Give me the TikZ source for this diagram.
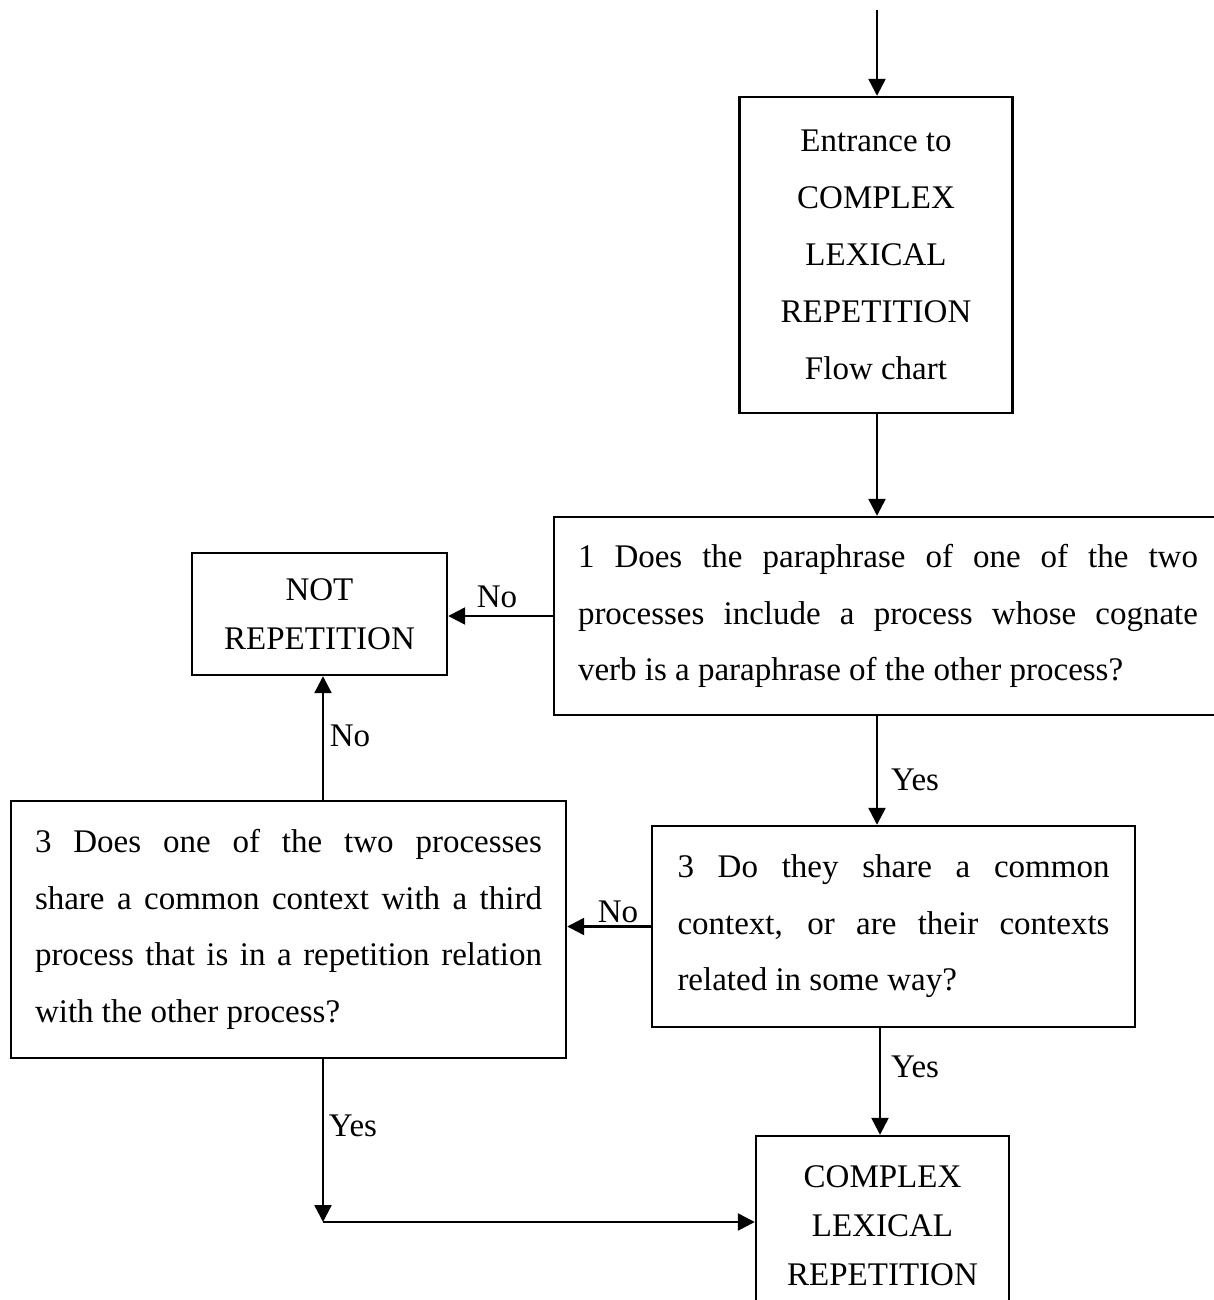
\documentclass[tikz,border=0pt]{standalone}
\usepackage{fontspec}
\setmainfont{Liberation Serif}
\usetikzlibrary{arrows.meta}
\begin{document}
\begin{tikzpicture}[x=0.5pt,y=-0.5pt,
  box/.style={draw,line width=1.2pt,rectangle,inner sep=0pt},
  qfont/.style={font=\fontsize{16.5}{28.25}\selectfont},
  flow/.style={line width=1.2pt,-{Triangle[length=8.5pt,width=8.5pt]}},
  lbl/.style={font=\fontsize{16.5}{20}\selectfont,inner sep=0pt}]
\useasboundingbox (0,0) rectangle (1214,1300);
\clip (0,0) rectangle (1214,1300);

% guide coordinates for the vertical connector columns
\coordinate (top) at (877,10);
\coordinate (col) at (323,0);
\coordinate (colr) at (880,0);
\coordinate (corner) at (323,1222);

% boxes
\node[box,minimum width=136.5pt,minimum height=158pt,align=center,
      font=\fontsize{16.5}{28.5}\selectfont] (entrance) at (876,255)
  {Entrance to\\COMPLEX\\LEXICAL\\REPETITION\\Flow chart};

\node[box,minimum width=334pt,minimum height=99pt,align=left,qfont] (q1) at (888,616)
  {\makebox[310pt][s]{1 Does the paraphrase of one of the two}\\
   \makebox[310pt][s]{processes include a process whose cognate}\\
   verb is a paraphrase of the other process?};

\node[box,minimum width=127.5pt,minimum height=61pt,align=center,
      font=\fontsize{16.5}{24.5}\selectfont] (notrep) at (319.5,614)
  {NOT\\REPETITION};

\node[box,minimum width=241.5pt,minimum height=100.5pt,align=left,qfont] (q3r) at (893.5,926.5)
  {\makebox[216pt][s]{3 Do they share a common}\\
   \makebox[216pt][s]{context, or are their contexts}\\
   related in some way?};

\node[box,minimum width=277.5pt,minimum height=128.5pt,align=left,qfont] (q3l) at (288.5,929.5)
  {\makebox[253.5pt][s]{3 Does one of the two processes}\\
   \makebox[253.5pt][s]{share a common context with a third}\\
   \makebox[253.5pt][s]{process that is in a repetition relation}\\
   with the other process?};

\node[box,minimum width=126.5pt,minimum height=90pt,align=center,
      font=\fontsize{16.5}{24.5}\selectfont] (final) at (882.5,1226)
  {COMPLEX\\LEXICAL\\REPETITION};

% connectors
\draw[flow] (top) -- (entrance.north -| top);
\draw[flow] (entrance.south -| top) -- (q1.north -| top);
\draw[flow] (q1.west) -- (q1.west -| notrep.east);
\draw[flow] (q1.south -| top) -- (q3r.north -| top);
\draw[flow] (q3r.west) -- (q3r.west -| q3l.east);
\draw[flow] (q3l.north -| col) -- (notrep.south -| col);
\draw[flow] (q3l.south -| col) -- (corner);
\draw[flow] (corner) -- (corner -| final.west);
\draw[flow] (q3r.south -| colr) -- (final.north -| colr);

% branch labels
\node[lbl] (l1) at (497,597) {No};
\node[lbl] (l2) at (915,780) {Yes};
\node[lbl] (l3) at (618,912) {No};
\node[lbl] (l4) at (350,736) {No};
\node[lbl] (l5) at (353,1126) {Yes};
\node[lbl] (l6) at (915,1067) {Yes};
\end{tikzpicture}
\end{document}
